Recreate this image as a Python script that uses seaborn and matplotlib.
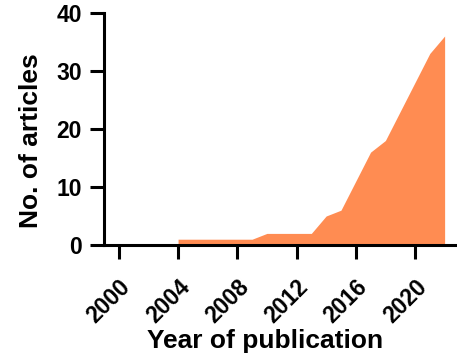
import numpy as np
import matplotlib.pyplot as plt
import seaborn as sns

sns.set_theme(style="ticks")
plt.rcParams["font.family"] = ["Liberation Sans", "DejaVu Sans"]
plt.rcParams["font.weight"] = "bold"

years = [2004, 2005, 2006, 2007, 2008, 2009, 2010, 2011, 2012, 2013,
         2014, 2015, 2016, 2017, 2018, 2019, 2020, 2021, 2022]
articles = [1, 1, 1, 1, 1, 1, 2, 2, 2, 2,
            5, 6, 11, 16, 18, 23, 28, 33, 36]
xticks = [2000, 2004, 2008, 2012, 2016, 2020]
yticks = [0, 10, 20, 30, 40]

orange = "#FF8C52"

fig = plt.figure(figsize=(4.57, 3.6), dpi=100)
ax = fig.add_axes([0.2276, 0.3194, 0.768, 0.645])

sns.lineplot(x=years, y=articles, color=orange, linewidth=0, ax=ax)
ax.fill_between(years, articles, 0, color=orange, linewidth=0)

ax.set_xlim(1999, 2022.7)
ax.set_ylim(0, 40)
ax.set_xticks(xticks)
ax.set_yticks(yticks)
ax.set_xticklabels([str(t) for t in xticks], rotation=45, ha="right",
                   rotation_mode="anchor", fontsize=16.5, fontweight="bold")
ax.set_yticklabels([str(t) for t in yticks], fontsize=16.5, fontweight="bold")

for s in ["top", "right"]:
    ax.spines[s].set_visible(False)
for s in ["left", "bottom"]:
    ax.spines[s].set_linewidth(2.2)
    ax.spines[s].set_color("black")
ax.tick_params(axis="both", width=2.2, length=10, color="black",
               labelcolor="black")
ax.tick_params(axis="y", pad=6)
ax.tick_params(axis="x", pad=12)

ax.set_xlabel("Year of publication", fontsize=19, fontweight="bold",
              color="black", va="baseline")
ax.set_ylabel("No. of articles", fontsize=19, fontweight="bold",
              color="black", va="baseline")
ax.xaxis.set_label_coords(0.459, -0.444)
ax.yaxis.set_label_coords(-0.188, 0.448)

fig.savefig("out.png", dpi=100)
